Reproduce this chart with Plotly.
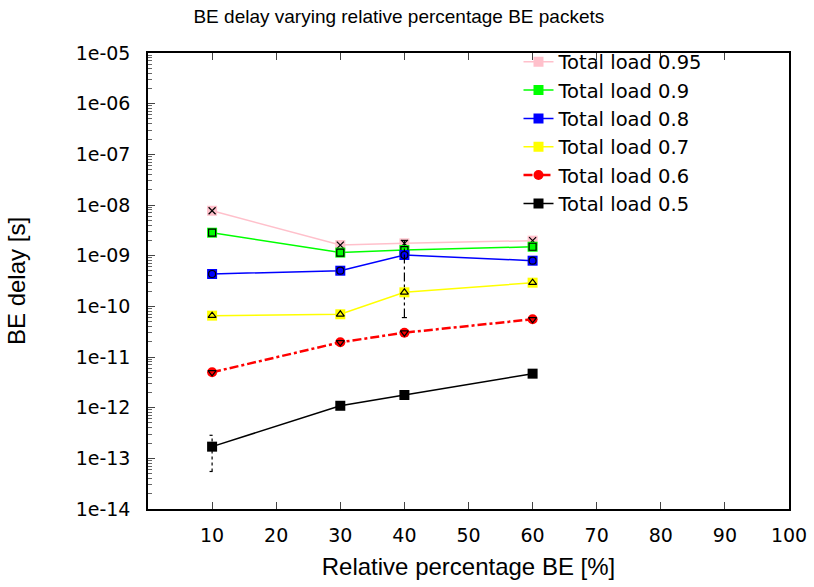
import plotly.graph_objects as go

x_pct = [10, 30, 40, 60]

load_labels = ["Total load 0.95", "Total load 0.9", "Total load 0.8",
               "Total load 0.7", "Total load 0.6", "Total load 0.5"]

delay_095 = [7.7e-9, 1.62e-9, 1.75e-9, 1.98e-9]
delay_09 = [2.84e-9, 1.15e-9, 1.29e-9, 1.50e-9]
delay_08 = [4.35e-10, 5.05e-10, 1.03e-9, 7.96e-10]
delay_07 = [6.55e-11, 6.97e-11, 1.89e-10, 2.93e-10]
delay_06 = [4.99e-12, 1.95e-11, 3.02e-11, 5.55e-11]
delay_05 = [1.70e-13, 1.09e-12, 1.78e-12, 4.69e-12]

err_095 = [0, 0, 0, 0]
err_09 = [0, 0, 0, 0]
err_08 = [0, 0, 9.7e-10, 0]
err_07 = [0, 0, 0, 0]
err_06 = [0, 0, 0, 0]
err_05 = [1.15e-13, 0, 0, 0]

y_tick_vals = [1e-14, 1e-13, 1e-12, 1e-11, 1e-10, 1e-9, 1e-8, 1e-7, 1e-6, 1e-5]
y_tick_text = ["1e-14", "1e-13", "1e-12", "1e-11", "1e-10", "1e-09",
               "1e-08", "1e-07", "1e-06", "1e-05"]
x_tick_vals = [10, 20, 30, 40, 50, 60, 70, 80, 90, 100]

series = [
    (load_labels[0], delay_095, err_095, "pink", "solid", 1.5, "square", "x-thin-open", "solid"),
    (load_labels[1], delay_09, err_09, "#00ff00", "solid", 1.5, "square", "square-open", "solid"),
    (load_labels[2], delay_08, err_08, "#0000ff", "solid", 1.5, "square", "circle-open", "dashdot"),
    (load_labels[3], delay_07, err_07, "#ffff00", "solid", 1.5, "square", "triangle-up-open", "solid"),
    (load_labels[4], delay_06, err_06, "#ff0000", "dashdot", 2.5, "circle", "triangle-down-open", "solid"),
    (load_labels[5], delay_05, err_05, "#000000", "solid", 1.5, "square", "square", "dot"),
]

fig = go.Figure()

cap = 0.4
for name, ys, errs, color, dash, lw, sym, inner, edash in series:
    fig.add_trace(go.Scatter(
        x=x_pct, y=ys, name=name, mode="lines+markers",
        line=dict(color=color, width=lw, dash=dash),
        marker=dict(symbol=sym, size=10, color=color, line=dict(width=0)),
    ))
    fig.add_trace(go.Scatter(
        x=x_pct, y=ys, mode="markers", showlegend=False, hoverinfo="skip",
        marker=dict(symbol=inner, size=7, color="black",
                    line=dict(color="black", width=1.2)),
    ))
    ex, ey = [], []
    for xv, yv, ev in zip(x_pct, ys, errs):
        if ev > 0:
            lo, hi = yv - ev, yv + ev
            ex += [xv, xv, None, xv - cap, xv + cap, None, xv - cap, xv + cap, None]
            ey += [lo, hi, None, lo, lo, None, hi, hi, None]
    if ex:
        fig.add_trace(go.Scatter(
            x=ex, y=ey, mode="lines", showlegend=False, hoverinfo="skip",
            line=dict(color="black", width=1.2, dash=edash),
        ))

lib_font = "Liberation Sans, Arial, sans-serif"
tick_font = "DejaVu Sans, sans-serif"

fig.update_layout(
    width=814, height=587,
    paper_bgcolor="white", plot_bgcolor="white",
    margin=dict(l=148, r=25, t=53, b=78, autoexpand=False),
    font=dict(family=lib_font, size=20, color="black"),
    title=dict(text="BE delay varying relative percentage BE packets",
               x=0.49, xanchor="center", y=0.972, yanchor="middle",
               font=dict(size=19)),
    showlegend=True,
    legend=dict(x=0.578, y=1.023, xanchor="left", yanchor="top",
                bgcolor="rgba(0,0,0,0)", font=dict(family=tick_font, size=19.5),
                tracegroupgap=0, itemwidth=30),
    xaxis=dict(
        range=[0, 100], tickvals=x_tick_vals, ticks="inside", ticklen=7,
        tickcolor="#444", showline=True, linecolor="black", linewidth=1.5,
        mirror="ticks", showgrid=False, zeroline=False,
        tickfont=dict(family=tick_font, size=19),
        title=dict(text="Relative percentage BE [%]", standoff=14),
        ticklabelstandoff=8,
    ),
    yaxis=dict(
        type="log", range=[-14, -5], tickvals=y_tick_vals, ticktext=y_tick_text,
        ticks="inside", ticklen=7, tickcolor="#444",
        minor=dict(ticks="inside", ticklen=4, tickcolor="#666", dtick="D1", showgrid=False),
        showline=True, linecolor="black", linewidth=1.5, mirror=True,
        showgrid=False, zeroline=False,
        tickfont=dict(family=tick_font, size=19),
        title=dict(text="BE delay [s]", standoff=43),
        ticklabelstandoff=12,
    ),
)

fig.write_html("out.html", config={"displayModeBar": False},
               post_script="document.body.style.margin='0';")
